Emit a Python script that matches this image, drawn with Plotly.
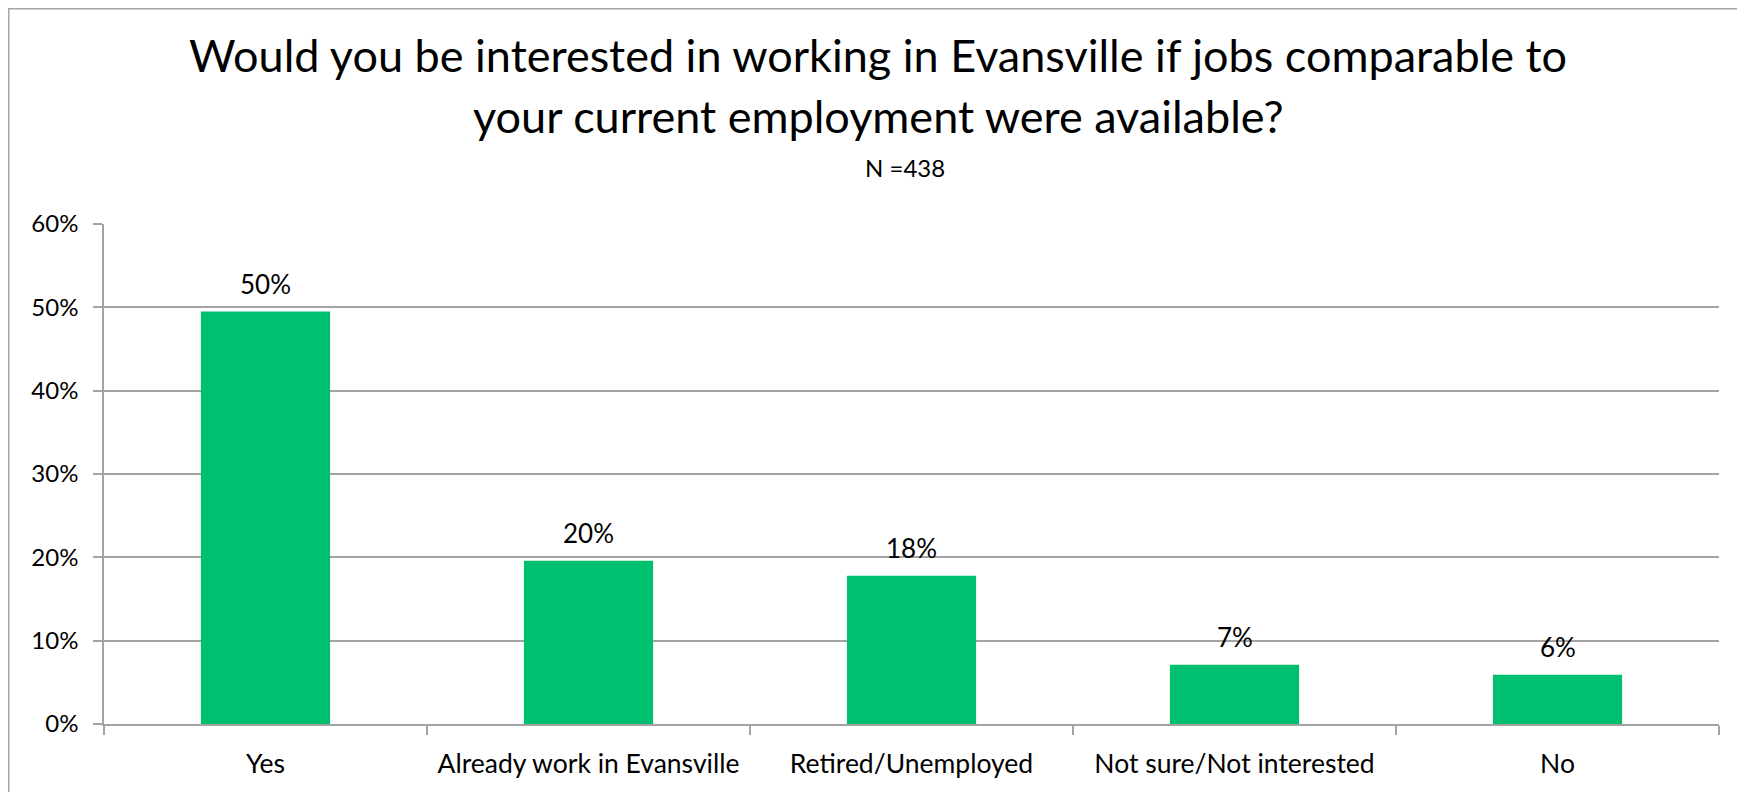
import plotly.graph_objects as go

categories = ["Yes", "Already work in Evansville", "Retired/Unemployed",
              "Not sure/Not interested", "No"]
shares = [49.5, 19.6, 17.8, 7.1, 5.9]
y_ticks = [0, 10, 20, 30, 40, 50, 60]
y_tick_labels = [f"{v}%" for v in y_ticks]

title_line1 = "Would you be interested in working in Evansville if jobs comparable to"
title_line2 = "your current employment were available?"
subtitle = "N =438"

FONT = "Lato, 'Open Sans', sans-serif"
GREEN = "#00BF6F"
GRID = "#A3A3A3"

# page has an 8px body margin, so the figure is a bit smaller than the window
W, H = 1737, 784
L, R, T, B = 96, 26, 216, 68
pw, ph = W - L - R, H - T - B


def px_x(x):
    return (x - L) / pw


def px_y(y):
    return (H - B - y) / ph


fig = go.Figure(
    go.Bar(
        x=categories,
        y=shares,
        marker=dict(color=GREEN, line=dict(width=0)),
        hovertemplate="%{x}: %{y:.1f}%<extra></extra>",
    )
)

# value labels above the bars
for c, v in zip(categories, shares):
    fig.add_annotation(
        x=c, y=v, text=f"{v:.0f}%", showarrow=False, yshift=28,
        font=dict(size=26, color="#000000", family=FONT),
    )

# title block
for txt, xp, yp, size in [(title_line1, 870, 47, 45),
                          (title_line2, 870, 108, 45),
                          (subtitle, 897, 160, 24)]:
    fig.add_annotation(x=px_x(xp), y=px_y(yp), xref="paper", yref="paper",
                       xanchor="center", yanchor="middle",
                       text=txt, showarrow=False,
                       font=dict(size=size, color="#000000", family=FONT))

# chart frame (runs off the right and bottom edges)
fig.add_shape(type="rect", xref="paper", yref="paper",
              x0=px_x(0.5), x1=px_x(1760), y0=px_y(810), y1=px_y(0.5),
              line=dict(color="#A6A6A6", width=2), fillcolor="rgba(0,0,0,0)",
              layer="below")

fig.update_layout(
    width=W, height=H,
    margin=dict(l=L, r=R, t=T, b=B, autoexpand=False),
    paper_bgcolor="#FFFFFF",
    plot_bgcolor="#FFFFFF",
    bargap=0.6,
    showlegend=False,
    font=dict(family=FONT, size=24, color="#000000"),
)
fig.update_xaxes(
    type="category",
    automargin=False,
    showline=True, linecolor=GRID, linewidth=1.5,
    ticks="outside", tickson="boundaries", ticklen=9, tickcolor=GRID, tickwidth=1.5,
    showgrid=False,
    ticklabelstandoff=15,
    tickfont=dict(size=26.5, family=FONT, color="#000000"),
)
fig.update_yaxes(
    range=[0, 60], tickvals=y_ticks, ticktext=y_tick_labels,
    automargin=False,
    showline=True, linecolor=GRID, linewidth=1.5,
    ticks="outside", ticklen=9, tickcolor=GRID, tickwidth=1.5,
    showgrid=True, gridcolor=GRID, gridwidth=1.5,
    zeroline=False,
    ticklabelstandoff=10,
    tickfont=dict(size=24, family=FONT, color="#000000"),
)

fig.write_html("out.html")
